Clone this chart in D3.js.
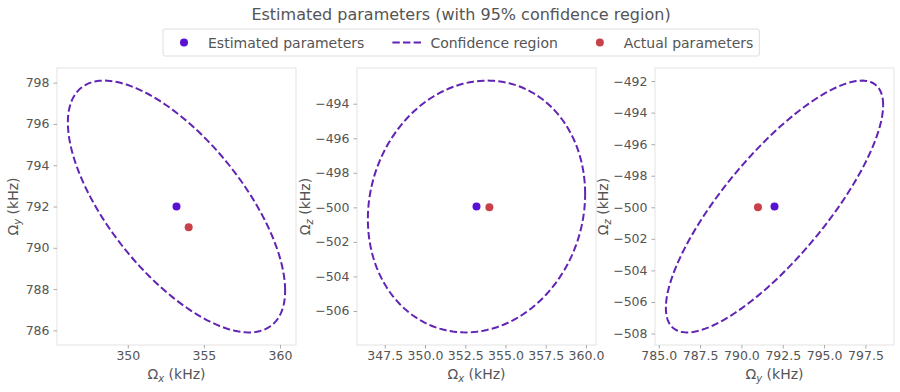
<!DOCTYPE html>
<meta charset="utf-8">
<script src="https://d3js.org/d3.v7.min.js"></script>
<style>
  body { margin: 0; background: #fff; }
  text { font-family: "DejaVu Sans", sans-serif; fill: #555; }
</style>
<div id="chart"></div>
<script>
    var width = 900
    var height = 392

    // estimated / actual parameter values (kHz), order: x, y, z
    var paramNames = ["x", "y", "z"]
    var estimated = [353.2, 792.0, -499.95]
    var actual = [354.0, 791.0, -500.0]

    // one panel per pair of parameters
    var panelPairs = [[0, 1], [0, 2], [1, 2]]
    // 95% region: half extent along horizontal / vertical parameter, and correlation
    var halfH = [7.14, 6.75, 6.57]
    var halfV = [6.10, 7.29, 7.98]
    var corr = [-0.667, 0.10, 0.805]

    var xTicks = [[350, 355, 360], [347.5, 350, 352.5, 355, 357.5, 360], [785, 787.5, 790, 792.5, 795, 797.5]]
    var yTicks = [[786, 788, 790, 792, 794, 796, 798], [-506, -504, -502, -500, -498, -496, -494], [-508, -506, -504, -502, -500, -498, -496, -494, -492]]
    var xTickFmt = [d3.format("d"), d3.format(".1f"), d3.format(".1f")]

    var estColor = "#5a12d2"
    var actColor = "#c8414a"
    var ellColor = "#6124b4"

    var panelLeft = [57, 357, 655]
    var panelW = 239
    var panelTop = 68
    var panelH = 277

    var svg = d3.select("#chart")
        .append("svg")
        .attr("width", width)
        .attr("height", height)

    svg.append("text")
        .attr("x", 461)
        .attr("y", 20)
        .attr("text-anchor", "middle")
        .style("font-size", "16px")
        .text("Estimated parameters (with 95% confidence region)")

    function ellipsePoints(i) {
        var a = panelPairs[i][0], b = panelPairs[i][1]
        var cx = estimated[a], cy = estimated[b]
        var r = corr[i], s = Math.sqrt(1 - r * r)
        return d3.range(0, 201).map(function (k) {
            var t = k / 200 * 2 * Math.PI
            return [cx + halfH[i] * Math.cos(t), cy + halfV[i] * (r * Math.cos(t) + s * Math.sin(t))]
        })
    }

    panelPairs.forEach(function (pair, i) {
        var pts = ellipsePoints(i)
        var xe = d3.extent(pts, function (d) { return d[0] })
        var ye = d3.extent(pts, function (d) { return d[1] })
        var mx = (xe[1] - xe[0]) * 0.05, my = (ye[1] - ye[0]) * 0.05

        var x = d3.scaleLinear().domain([xe[0] - mx, xe[1] + mx]).range([0, panelW])
        var y = d3.scaleLinear().domain([ye[0] - my, ye[1] + my]).range([panelH, 0])

        var g = svg.append("g").attr("transform", "translate(" + panelLeft[i] + "," + panelTop + ")")

        g.append("rect")
            .attr("width", panelW)
            .attr("height", panelH)
            .attr("fill", "none")
            .attr("stroke", "#e3e3e3")

        var xAxis = g.append("g")
            .attr("transform", "translate(0," + panelH + ")")
            .call(d3.axisBottom(x).tickValues(xTicks[i]).tickFormat(xTickFmt[i]).tickSize(3.5).tickPadding(3))
        var yAxis = g.append("g")
            .call(d3.axisLeft(y).tickValues(yTicks[i]).tickFormat(function (d) { return d < 0 ? "\u2212" + Math.abs(d) : d }).tickSize(3.5).tickPadding(4))
        ;[xAxis, yAxis].forEach(function (ax) {
            ax.select(".domain").remove()
            ax.selectAll(".tick line").attr("stroke", "#aaa")
            ax.selectAll(".tick text").style("font-size", "12.5px").attr("fill", "#5c5c5c")
                .style("font-family", "DejaVu Sans, sans-serif")
        })

        g.append("path")
            .datum(pts)
            .attr("fill", "none")
            .attr("stroke", ellColor)
            .attr("stroke-width", 2)
            .attr("stroke-dasharray", "7.4,3.2")
            .attr("d", d3.line().x(function (d) { return x(d[0]) }).y(function (d) { return y(d[1]) }))

        g.append("circle")
            .attr("cx", x(estimated[pair[0]]))
            .attr("cy", y(estimated[pair[1]]))
            .attr("r", 4)
            .attr("fill", estColor)
        g.append("circle")
            .attr("cx", x(actual[pair[0]]))
            .attr("cy", y(actual[pair[1]]))
            .attr("r", 4)
            .attr("fill", actColor)

        // axis labels
        var xl = g.append("text")
            .attr("x", panelW / 2)
            .attr("y", panelH + 34)
            .attr("text-anchor", "middle")
            .style("font-size", "14px")
        xl.append("tspan").text("\u03A9")
        xl.append("tspan").attr("dy", 3).style("font-size", "10px").style("font-style", "italic").text(paramNames[pair[0]])
        xl.append("tspan").attr("dy", -3).text(" (kHz)")

        var ylx = i === 0 ? -44 : -52
        var yl = g.append("text")
            .attr("transform", "translate(" + ylx + "," + (panelH / 2) + ") rotate(-90)")
            .attr("text-anchor", "middle")
            .attr("dy", "0.35em")
            .style("font-size", "14px")
        yl.append("tspan").text("\u03A9")
        yl.append("tspan").attr("dy", 3).style("font-size", "10px").style("font-style", "italic").text(paramNames[pair[1]])
        yl.append("tspan").attr("dy", -3).text(" (kHz)")
    })

    // legend
    var legendItems = [
        { label: "Estimated parameters", type: "dot", color: estColor },
        { label: "Confidence region", type: "line", color: ellColor },
        { label: "Actual parameters", type: "dot", color: actColor }
    ]
    var lg = svg.append("g")
    var lbox = lg.append("rect")
        .attr("y", 29)
        .attr("height", 27)
        .attr("rx", 2)
        .attr("fill", "#fff")
        .attr("stroke", "#dedede")
    var cursor = 170
    var lastEnd = 0
    legendItems.forEach(function (it) {
        if (it.type === "dot") {
            lg.append("circle").attr("cx", cursor + 14).attr("cy", 42.5).attr("r", 4).attr("fill", it.color)
        } else {
            lg.append("line").attr("x1", cursor).attr("x2", cursor + 28.6).attr("y1", 42.5).attr("y2", 42.5)
                .attr("stroke", it.color).attr("stroke-width", 2).attr("stroke-dasharray", "7.4,3.2")
        }
        var tx = cursor + 38
        var t = lg.append("text").attr("x", tx).attr("y", 47.5).style("font-size", "14px").text(it.label)
        lastEnd = tx + t.node().getComputedTextLength()
        cursor = lastEnd + 28
    })
    lbox.attr("x", 163).attr("width", lastEnd + 6 - 163)
</script>
